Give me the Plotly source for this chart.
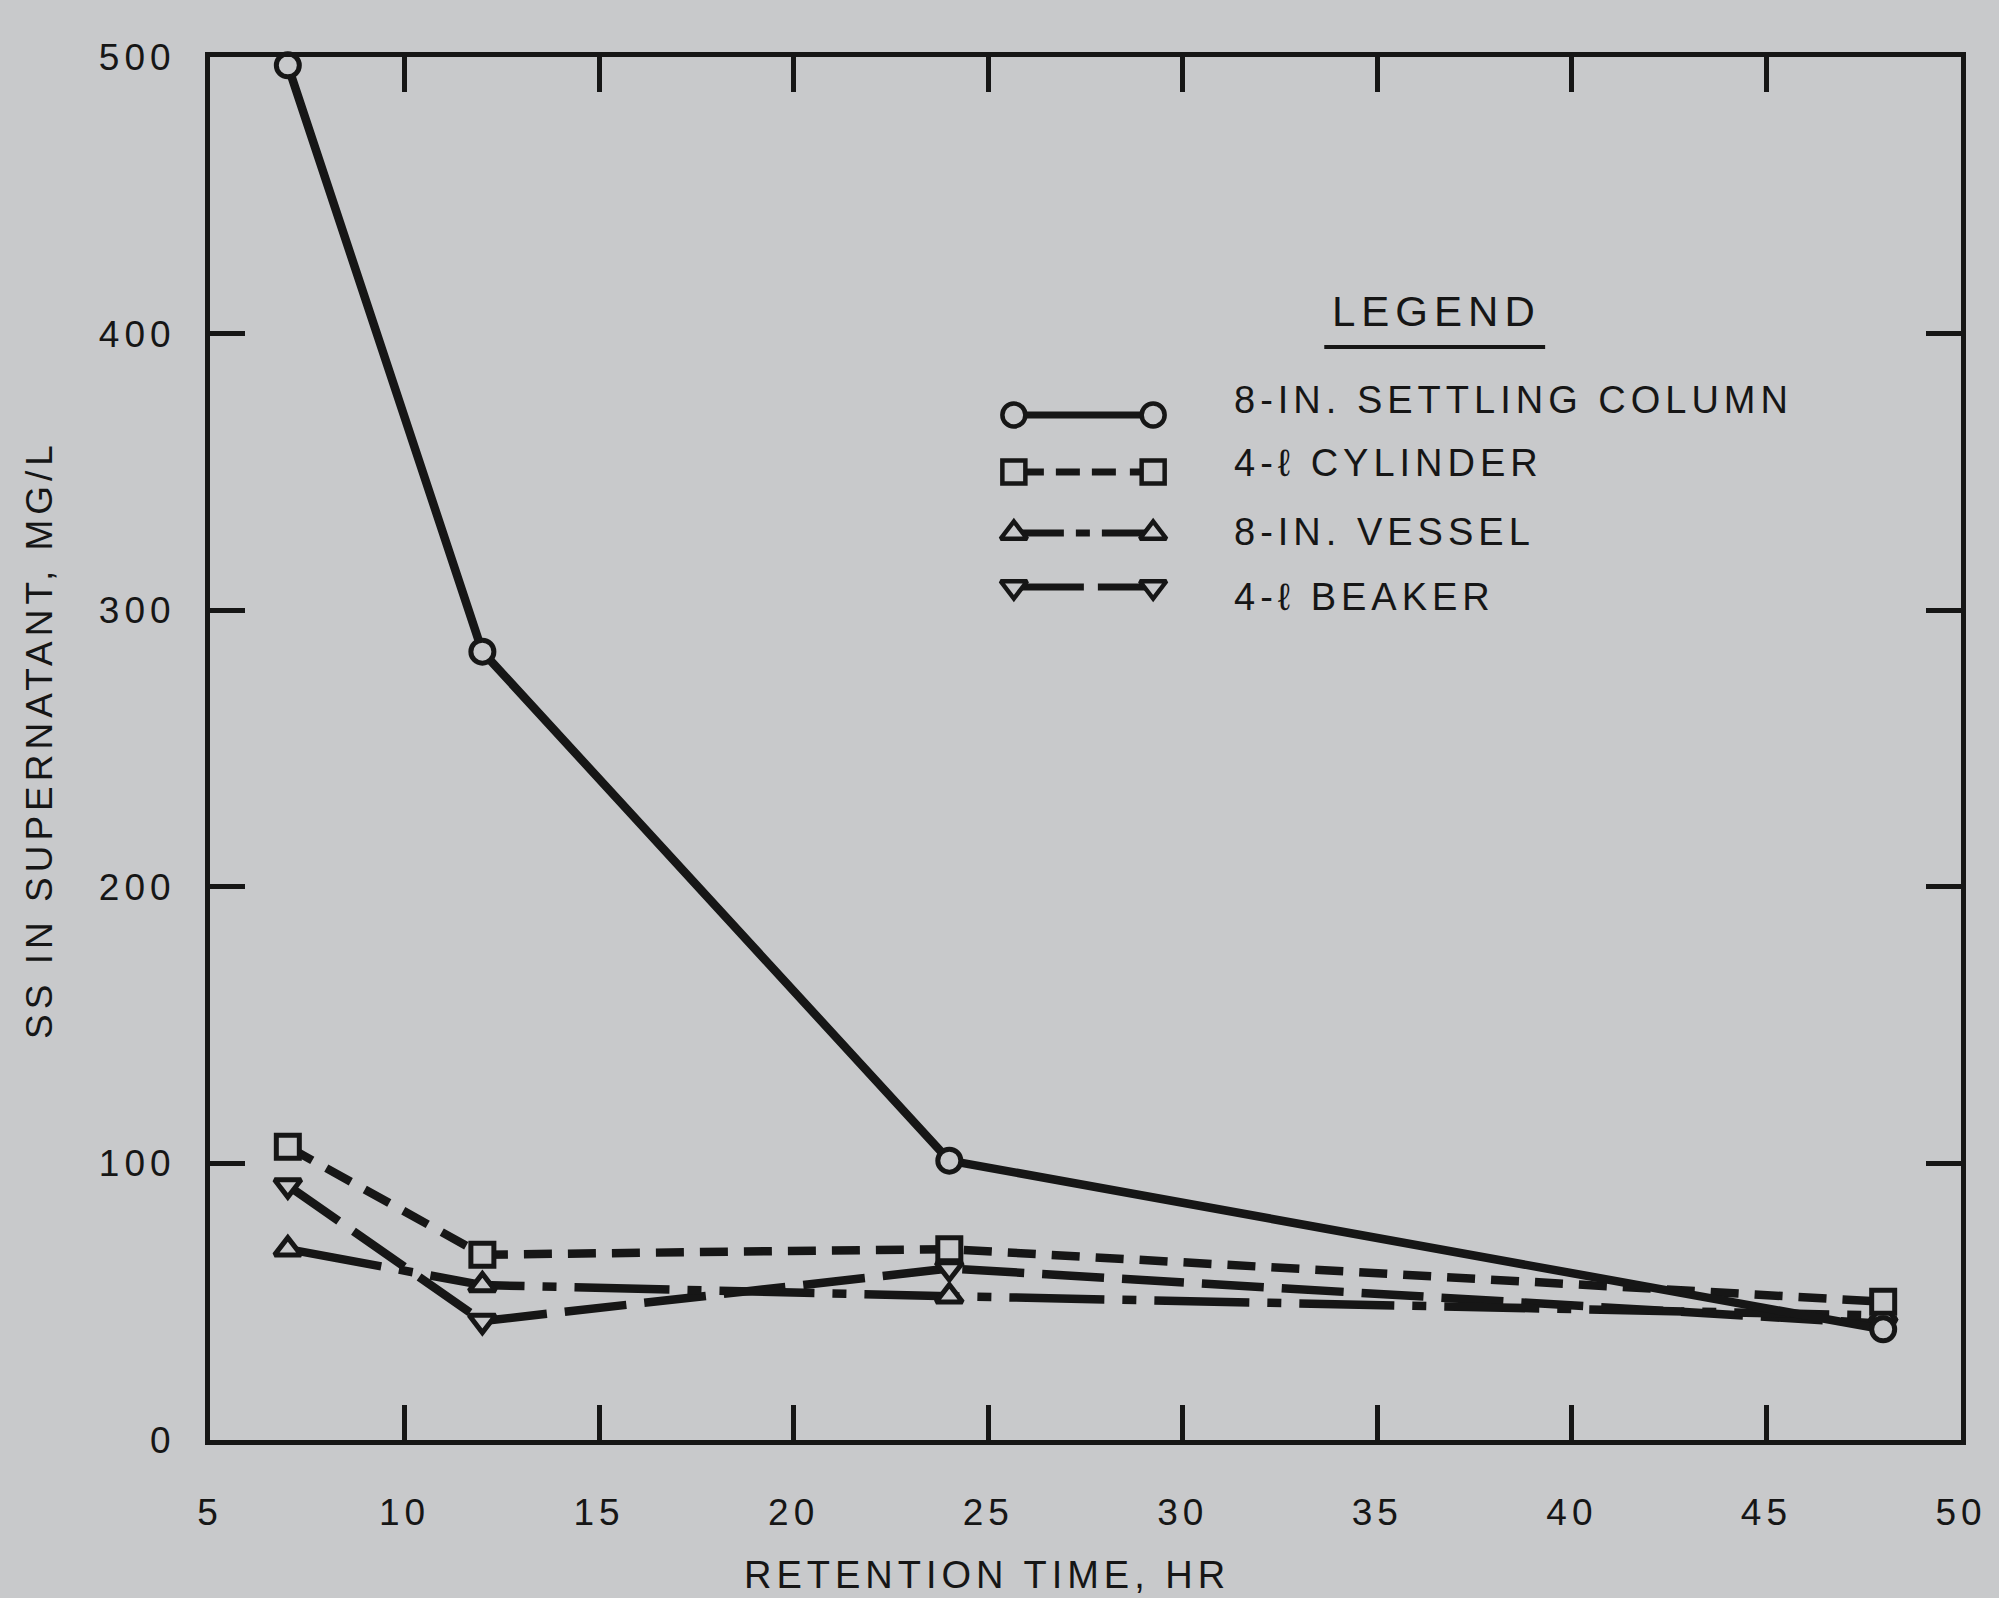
import plotly.graph_objects as go

# ---------------- data ----------------
retention_hr = [7, 12, 24, 48]
settling_column = [497, 285, 101, 40]
cylinder_4l = [106, 67, 69, 50]
vessel_8in = [69, 56, 52, 45]
beaker_4l = [92, 43, 62, 42]

series_names = ["8-IN. SETTLING COLUMN", "4-\u2113 CYLINDER", "8-IN. VESSEL", "4-\u2113 BEAKER"]
x_tick_vals = [5, 10, 15, 20, 25, 30, 35, 40, 45, 50]
y_tick_vals = [0, 100, 200, 300, 400, 500]
x_title = "RETENTION TIME, HR"
y_title = "SS IN SUPERNATANT, MG/L"
legend_title = "LEGEND"

# ---------------- style ----------------
W, H = 1999, 1598
L, R, T, B = 210, 1970, 57, 1440          # plot area in pixels
BG = "#c8c9cb"
INK = "#161616"
FONT = "Liberation Sans, Arial, Helvetica, sans-serif"
LS = 5  # letter spacing of the lettering

symbols = ["circle", "square", "triangle-up", "triangle-down"]
dashes = ["solid", "28px,16px", "95px,18px,14px,18px", "62px,18px"]
legend_dashes = ["solid", "30px,12px,24px,12px,24px,14px,40px",
                 "50px,12px,14px,12px,60px", "70px,14px,80px"]
values = [settling_column, cylinder_4l, vessel_8in, beaker_4l]

# legend layout (pixel positions)
LEG_X0, LEG_X1 = 1018, 1158
LEG_SYM_Y = [415, 472, 533, 587]
LEG_TXT_X = 1237
LEG_TXT_Y = [400, 463, 532, 597]


def px2paper(x, y):
    return (x - L) / (R - L), (B - y) / (B - T)


def spaced(s, ls=LS):
    return f'<span style="letter-spacing:{ls}px">{s}</span>'


fig = go.Figure()

# main series (draw settling column last so it sits on top)
for i in [3, 2, 1, 0]:
    fig.add_trace(go.Scatter(
        x=retention_hr, y=values[i], name=series_names[i],
        mode="lines+markers",
        line=dict(color=INK, width=8.5, dash=dashes[i]),
        marker=dict(symbol=symbols[i], size=23, color=BG,
                    line=dict(color=INK, width=5)),
        showlegend=False, cliponaxis=False,
    ))

# custom legend glyphs on a pixel-space overlay axis
for i in range(4):
    fig.add_trace(go.Scatter(
        x=[LEG_X0, LEG_X1], y=[LEG_SYM_Y[i], LEG_SYM_Y[i]],
        xaxis="x2", yaxis="y2", mode="lines+markers",
        line=dict(color=INK, width=7, dash=legend_dashes[i]),
        marker=dict(symbol=symbols[i], size=23, color=BG,
                    line=dict(color=INK, width=4.5)),
        showlegend=False, hoverinfo="skip",
    ))

annotations = []
for i in range(4):
    px, py = px2paper(LEG_TXT_X, LEG_TXT_Y[i])
    annotations.append(dict(x=px, y=py, xref="paper", yref="paper",
                            text=spaced(series_names[i]), showarrow=False,
                            xanchor="left", yanchor="middle",
                            font=dict(family=FONT, size=38, color=INK)))
px, py = px2paper(1443, 311)
annotations.append(dict(x=px, y=py, xref="paper", yref="paper", text=spaced(legend_title, 6),
                        showarrow=False, xanchor="center", yanchor="middle",
                        font=dict(family=FONT, size=42, color=INK)))
px, py = px2paper(991, 1575)
annotations.append(dict(x=px, y=py, xref="paper", yref="paper", text=spaced(x_title),
                        showarrow=False, xanchor="center", yanchor="middle",
                        font=dict(family=FONT, size=38, color=INK)))
px, py = px2paper(38, 739)
annotations.append(dict(x=px, y=py, xref="paper", yref="paper", text=spaced(y_title),
                        showarrow=False, xanchor="center", yanchor="middle",
                        textangle=-90,
                        font=dict(family=FONT, size=37, color=INK)))

u0x, u0y = px2paper(1330, 347)
u1x, u1y = px2paper(1552, 347)
shapes = [dict(type="line", xref="paper", yref="paper", x0=u0x, y0=u0y, x1=u1x, y1=u1y,
               line=dict(color=INK, width=4))]

axis_common = dict(showline=True, linewidth=5, linecolor=INK, mirror="ticks",
                   ticks="inside", ticklen=35, tickwidth=5, tickcolor=INK,
                   showgrid=False, zeroline=False,
                   tickfont=dict(family=FONT, size=37, color=INK))

fig.update_layout(
    width=W, height=H,
    margin=dict(l=L, r=W - R, t=T, b=H - B, pad=0),
    paper_bgcolor=BG, plot_bgcolor="rgba(0,0,0,0)",
    xaxis=dict(range=[5, 50], tickvals=x_tick_vals,
               ticktext=[spaced(str(v)) for v in x_tick_vals],
               ticklabelstandoff=36, **axis_common),
    yaxis=dict(range=[0, 500], tickvals=y_tick_vals,
               ticktext=[spaced(str(v)) for v in y_tick_vals],
               ticklabelstandoff=22, **axis_common),
    xaxis2=dict(overlaying="x", range=[L, R], visible=False, fixedrange=True),
    yaxis2=dict(overlaying="y", range=[B, T], visible=False, fixedrange=True),
    annotations=annotations, shapes=shapes,
    showlegend=False,
)

page_fix = ("document.body.style.margin='0';document.body.style.overflow='hidden';"
            "document.body.style.background='%s';" % BG)
fig.write_html("out.html", post_script=page_fix,
               config={"displayModeBar": False, "staticPlot": False})
